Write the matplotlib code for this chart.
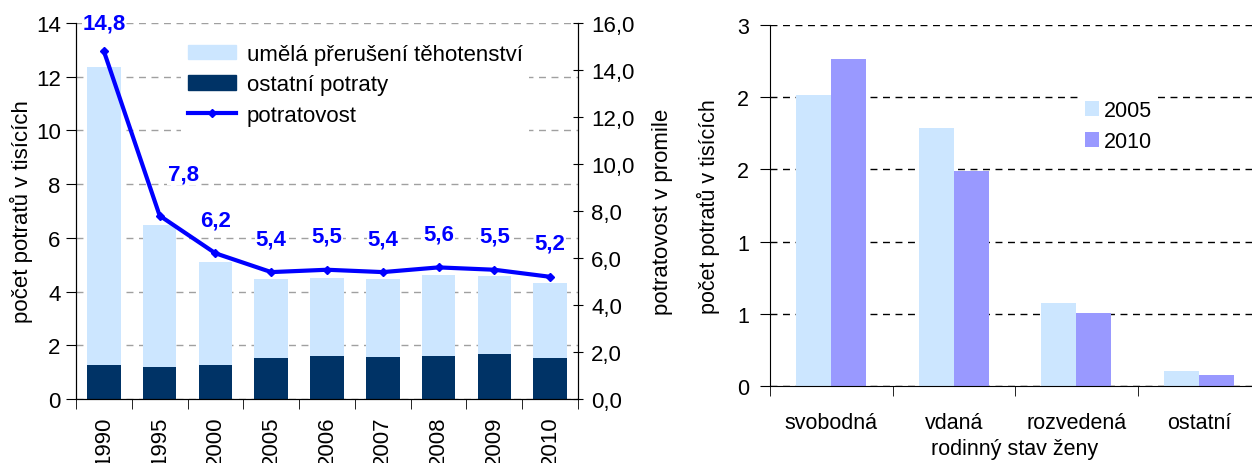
import matplotlib
matplotlib.use('Agg')
import matplotlib.pyplot as plt
import matplotlib.patches as mpatches
from matplotlib.lines import Line2D
from matplotlib.ticker import FuncFormatter, FormatStrFormatter
import numpy as np

plt.rcParams['font.family'] = ['Liberation Sans', 'DejaVu Sans']
plt.rcParams['font.size'] = 16

# left chart: abortions by year (thousands) and abortion rate (per mille)
years = ['1990', '1995', '2000', '2005', '2006', '2007', '2008', '2009', '2010']
umela = [11.09, 5.30, 3.83, 2.94, 2.93, 2.89, 3.01, 2.93, 2.79]
ostatni = [1.27, 1.18, 1.27, 1.53, 1.59, 1.58, 1.61, 1.66, 1.53]
potratovost = [14.8, 7.8, 6.2, 5.4, 5.5, 5.4, 5.6, 5.5, 5.2]

# right chart: abortions by marital status (thousands)
stav = ['svobodná', 'vdaná', 'rozvedená', 'ostatní']
rok_2005 = [2.42, 2.14, 0.69, 0.125]
rok_2010 = [2.72, 1.79, 0.61, 0.09]

LIGHT = '#cce6ff'
NAVY = '#003366'
BLUE = '#0000ff'
PURPLE = '#9999ff'


def comma(v, pos=None):
    return ('%.1f' % v).replace('.', ',')


fig = plt.figure(figsize=(12.52, 4.64), dpi=100)

# ---- left chart ----
ax = fig.add_axes([76 / 1252, 64 / 464, 502 / 1252, 376 / 464])
x = np.arange(len(years))
ax.bar(x, ostatni, 0.6, color=NAVY, zorder=2)
ax.bar(x, umela, 0.6, bottom=ostatni, color=LIGHT, zorder=2)
ax.set_xlim(-0.5, len(years) - 0.5)
ax.set_ylim(0, 14)
ax.set_yticks(range(0, 15, 2))
ax.yaxis.grid(True, color='#a0a0a0', linestyle=(0, (5, 4)), linewidth=1)
ax.set_axisbelow(True)
ax.set_xticks(x)
ax.set_xticklabels(years, rotation=90)
ax.set_xticks(np.arange(-0.5, len(years)), minor=True)
ax.tick_params(axis='x', which='major', length=0, pad=12)
ax.tick_params(axis='x', which='minor', length=7, direction='out')
ax.tick_params(axis='y', length=7, direction='out', pad=4)
ax.spines['top'].set_visible(False)
ax.set_ylabel('počet potratů v tisících')
ax.yaxis.set_label_coords(-0.086, 0.5)

ax2 = ax.twinx()
ax2.set_ylim(0, 16)
ax2.set_yticks(range(0, 17, 2))
ax2.yaxis.set_major_formatter(FuncFormatter(comma))
ax2.tick_params(axis='y', length=7, direction='inout', pad=6)
ax2.spines['top'].set_visible(False)
ax2.set_ylabel('potratovost v promile')
ax2.yaxis.set_label_coords(1.147, 0.5)
ax2.plot(x, potratovost, color=BLUE, linewidth=3, marker='D', markersize=4, zorder=3)

label_offsets = {0: (0, 20), 1: (17, 30)}
for i, v in enumerate(potratovost):
    ax2.annotate(comma(v), (x[i], v),
                 xytext=label_offsets.get(i, (0, 24)), textcoords='offset points',
                 ha='center', va='center', color=BLUE, fontweight='bold', fontsize=16,
                 bbox=dict(facecolor='white', edgecolor='none', pad=0.5))

handles = [mpatches.Patch(color=LIGHT), mpatches.Patch(color=NAVY),
           Line2D([], [], color=BLUE, linewidth=3, marker='D', markersize=4)]
labels = ['umělá přerušení těhotenství', 'ostatní potraty', 'potratovost']
ax2.legend(handles, labels, loc='upper left', bbox_to_anchor=(0.209, 0.962),
           frameon=True, fancybox=False, edgecolor='none', facecolor='white',
           framealpha=1, handlelength=2.16, handleheight=0.63, handletextpad=0.5,
           labelspacing=0.42, borderpad=0.3, borderaxespad=0)

# ---- right chart ----
bx = fig.add_axes([770 / 1252, 77 / 464, 490 / 1252, 361 / 464])
xs = np.arange(len(stav))
w = 0.286
bx.bar(xs - w / 2, rok_2005, w, color=LIGHT, label='2005', zorder=2)
bx.bar(xs + w / 2, rok_2010, w, color=PURPLE, label='2010', zorder=2)
bx.set_xlim(-0.5, len(stav) - 0.5)
bx.set_ylim(0, 3)
bx.set_yticks(np.arange(0, 3.01, 0.6))
bx.yaxis.set_major_formatter(FormatStrFormatter('%.0f'))
bx.yaxis.grid(True, color='black', linestyle=(0, (5, 4)), linewidth=1)
bx.set_axisbelow(True)
bx.set_xticks(xs)
bx.set_xticklabels(stav, fontsize=15.5)
bx.set_xticks(np.arange(-0.5, len(stav)), minor=True)
bx.tick_params(axis='x', which='major', length=0, pad=19)
bx.tick_params(axis='x', which='minor', length=7, direction='out')
bx.tick_params(axis='y', length=7, direction='out', pad=8, labelsize=15.5)
for s in ['top', 'right']:
    bx.spines[s].set_visible(False)
bx.set_ylabel('počet potratů v tisících', fontsize=15.5)
bx.yaxis.set_label_coords(-0.102, 0.5)
bx.set_xlabel('rodinný stav ženy', fontsize=15.5, labelpad=3)
bx.legend(loc='upper left', bbox_to_anchor=(0.629, 0.81), frameon=True, fancybox=False,
          edgecolor='none', facecolor='white', framealpha=1, handlelength=0.67,
          handleheight=0.67, handletextpad=0.2, labelspacing=0.45, borderpad=0.3,
          borderaxespad=0, fontsize=15.5)

fig.savefig('out.png', dpi=100)
